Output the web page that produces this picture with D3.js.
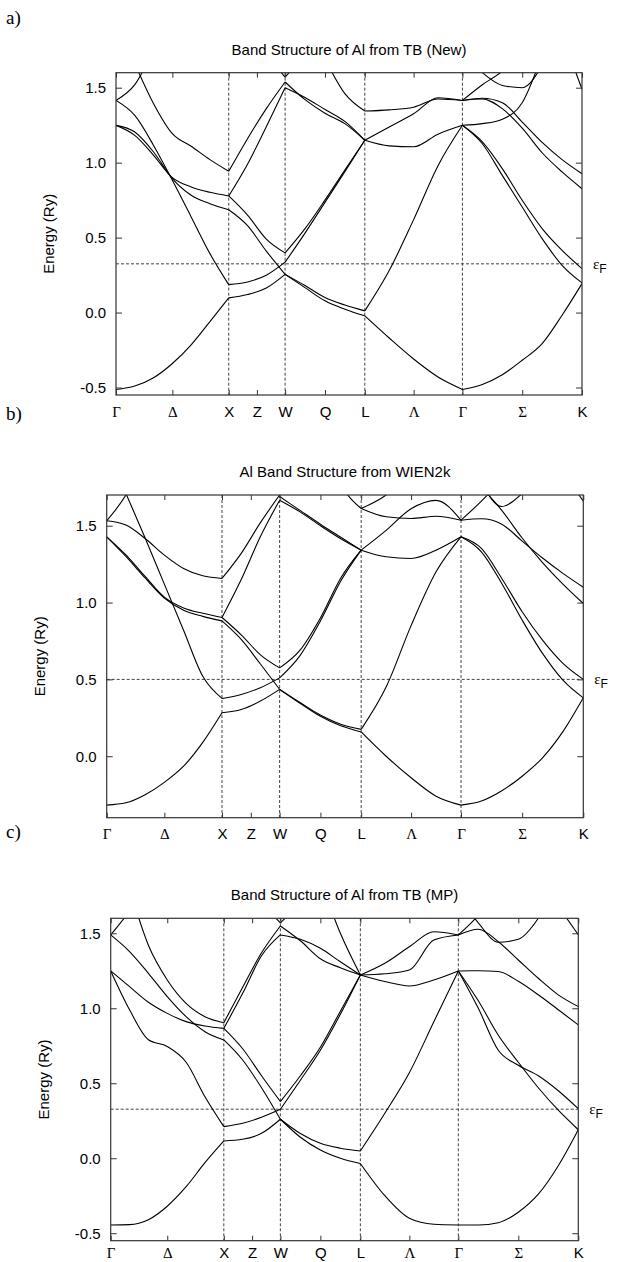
<!DOCTYPE html>
<html>
<head>
<meta charset="utf-8">
<script src="https://cdn.jsdelivr.net/npm/d3@7"></script>
<style>
  body { margin: 0; background: #fff; }
  svg text { font-family: "Liberation Sans", Arial, sans-serif; }
</style>
</head>
<body>
<div id="vis"></div>
<script>
// k-path (units of 2pi/a): G-X-W-L-G-K, with the mid-segment labels
const kLabels = ["Γ", "Δ", "X", "Z", "W", "Q", "L", "Λ", "Γ", "Σ", "K"];
const kTicks = [0, 0.5, 1, 1.25, 1.5, 1.8536, 2.2071, 2.6401, 3.0731, 3.6034, 4.1338];
const kSym = [1, 1.5, 2.2071, 3.0731];   // dashed verticals
const segs = [[0, 1], [1, 1.5], [1.5, 2.2071], [2.2071, 3.0731], [3.0731, 4.1338]];

// band energies (Ry) sampled evenly along each segment, one row per band
// panel a) TB (New)
const aGX = [
  [-0.513, -0.49, -0.435, -0.34, -0.215, -0.06, 0.098],
  [1.415, 1.315, 1.115, 0.882, 0.638, 0.393, 0.186],
  [1.249, 1.182, 1.049, 0.90, 0.838, 0.802, 0.778],
  [1.249, 1.204, 1.071, 0.893, 0.782, 0.726, 0.686],
  [1.95, 1.66, 1.393, 1.193, 1.109, 1.02, 0.942],
  [1.415, 1.52, 1.75, 2.0, null, null, null]
];
const aXW = [
  [0.098, 0.12, 0.164, 0.255],
  [0.186, 0.204, 0.249, 0.336],
  [0.686, 0.58, 0.41, 0.255],
  [0.778, 0.65, 0.49, 0.398],
  [0.778, 0.99, 1.24, 1.50],
  [0.942, 1.16, 1.36, 1.538],
  [null, null, 1.72, 1.57]
];
const aWL = [
  [0.255, 0.166, 0.078, 0.022, -0.022],
  [0.255, 0.18, 0.10, 0.05, 0.011],
  [0.336, 0.53, 0.735, 0.94, 1.149],
  [0.398, 0.56, 0.75, 0.95, 1.149],
  [1.538, 1.42, 1.33, 1.26, 1.149],
  [1.50, 1.435, 1.355, 1.275, 1.149],
  [2.3, 1.95, 1.69, 1.46, 1.344],
  [1.57, 1.72, null, null, null]
];
const aLG = [
  [-0.022, -0.17, -0.31, -0.43, -0.513],
  [0.011, 0.28, 0.62, 0.98, 1.249],
  [1.149, 1.112, 1.106, 1.19, 1.249],
  [1.149, 1.238, 1.326, 1.433, 1.415],
  [1.344, 1.352, 1.37, 1.425, 1.415]
];
const aGK = [
  [-0.513, -0.48, -0.415, -0.318, -0.207, -0.018, 0.193],
  [1.249, 1.126, 0.915, 0.704, 0.493, 0.315, 0.198],
  [1.249, 1.138, 0.96, 0.749, 0.56, 0.415, 0.293],
  [1.415, 1.43, 1.40, 1.271, 1.135, 1.02, 0.926],
  [1.415, 1.425, 1.36, 1.23, 1.066, 0.938, 0.826],
  [1.249, 1.26, 1.29, 1.40, 1.72, null, null],
  [1.415, 1.52, 1.61, 1.75, null, null, null],
  [null, 1.6, 1.515, 1.50, 1.65, null, null],
  [null, null, null, null, null, 1.85, 1.49]
];

// panel b) WIEN2k
const bGX = [
  [-0.318, -0.303, -0.25, -0.17, -0.065, 0.09, 0.283],
  [2.0, 1.71, 1.42, 1.12, 0.82, 0.52, 0.376],
  [1.532, 1.70, 1.95, null, null, null, null],
  [1.532, 1.504, 1.417, 1.309, 1.222, 1.174, 1.157],
  [1.428, 1.31, 1.17, 1.035, 0.965, 0.93, 0.903],
  [1.428, 1.30, 1.16, 1.03, 0.95, 0.91, 0.881]
];
const bXW = [
  [0.283, 0.304, 0.359, 0.435],
  [0.376, 0.402, 0.446, 0.51],
  [0.881, 0.76, 0.60, 0.435],
  [0.903, 0.79, 0.66, 0.575],
  [0.903, 1.15, 1.43, 1.666],
  [1.157, 1.32, 1.52, 1.70]
];
const bWL = [
  [0.435, 0.35, 0.268, 0.208, 0.175],
  [0.435, 0.345, 0.26, 0.198, 0.158],
  [0.51, 0.655, 0.88, 1.14, 1.341],
  [0.575, 0.69, 0.90, 1.16, 1.341],
  [1.69, 1.6, 1.51, 1.425, 1.341],
  [1.666, 1.59, 1.50, 1.415, 1.341],
  [null, null, 2.1, 1.77, 1.612]
];
const bLG = [
  [0.158, 0.0, -0.14, -0.26, -0.318],
  [0.175, 0.45, 0.85, 1.2, 1.428],
  [1.341, 1.298, 1.287, 1.341, 1.428],
  [1.341, 1.47, 1.61, 1.665, 1.536],
  [1.612, 1.558, 1.547, 1.562, 1.536],
  [1.612, 1.70, 1.85, null, null]
];
const bGK = [
  [-0.318, -0.292, -0.225, -0.13, -0.01, 0.16, 0.38],
  [1.428, 1.352, 1.157, 0.94, 0.755, 0.604, 0.50],
  [1.428, 1.33, 1.124, 0.886, 0.669, 0.495, 0.38],
  [1.536, 1.545, 1.51, 1.40, 1.29, 1.19, 1.10],
  [null, 1.75, 1.60, 1.42, 1.26, 1.12, 0.994],
  [1.536, 1.66, 1.8, null, null, null, null],
  [null, 1.78, 1.625, 1.71, 1.85, null, null],
  [null, null, null, null, null, 1.85, 1.66]
];

// panel c) TB (MP)
const cGX = [
  [-0.445, -0.443, -0.41, -0.32, -0.19, -0.03, 0.115],
  [1.249, 0.99, 0.79, 0.745, 0.64, 0.41, 0.211],
  [1.249, 1.144, 1.04, 0.966, 0.911, 0.882, 0.866],
  [null, 1.8, 1.42, 1.189, 1.033, 0.944, 0.904],
  [1.489, 1.378, 1.233, 1.078, 0.944, 0.844, 0.789],
  [1.489, 1.65, 1.85, null, null, null, null]
];
const cXW = [
  [0.115, 0.126, 0.166, 0.26],
  [0.211, 0.233, 0.273, 0.326],
  [0.789, 0.655, 0.47, 0.26],
  [0.866, 0.73, 0.55, 0.378],
  [0.866, 1.1, 1.35, 1.489],
  [0.904, 1.14, 1.37, 1.549],
  [null, null, 1.7, 1.57]
];
const cWL = [
  [0.26, 0.165, 0.1, 0.067, 0.048],
  [0.26, 0.14, 0.055, 0.0, -0.035],
  [0.326, 0.52, 0.72, 0.96, 1.222],
  [0.378, 0.55, 0.74, 0.98, 1.222],
  [1.549, 1.45, 1.33, 1.27, 1.222],
  [1.489, 1.46, 1.40, 1.31, 1.222],
  [null, 2.2, 1.85, 1.5, 1.222],
  [1.57, 1.7, null, null, null]
];
const cLG = [
  [-0.035, -0.25, -0.40, -0.44, -0.445],
  [0.048, 0.3, 0.57, 0.91, 1.249],
  [1.222, 1.178, 1.149, 1.189, 1.249],
  [1.222, 1.3, 1.41, 1.51, 1.489],
  [1.222, 1.23, 1.255, 1.455, 1.489]
];
const cGK = [
  [-0.445, -0.445, -0.43, -0.36, -0.24, -0.05, 0.19],
  [1.249, 1.25, 1.245, 1.18, 1.09, 0.99, 0.889],
  [1.249, 1.0, 0.72, 0.62, 0.55, 0.45, 0.33],
  [1.249, 1.05, 0.82, 0.64, 0.47, 0.32, 0.19],
  [1.489, 1.527, 1.444, 1.322, 1.2, 1.089, 1.011],
  [1.75, 1.57, 1.44, 1.46, 1.6, 1.85, null],
  [1.489, 1.62, 1.8, null, null, null, null],
  [null, null, null, null, null, 1.68, 1.49]
];

const W = 618, H = 1262;
const svg = d3.select('#vis').append('svg')
  .attr('width', W).attr('height', H);

const panels = [
  { tag: 'a)', title: 'Band Structure of Al from TB (New)', bands: [aGX, aXW, aWL, aLG, aGK],
    box: { l: 116, r: 582, t: 72.7, b: 395 }, ydom: [-0.55, 1.6], ef: 0.325,
    yt: [-0.5, 0, 0.5, 1.0, 1.5], tagY: 24, xpad: 11 },
  { tag: 'b)', title: 'Al Band Structure from WIEN2k', bands: [bGX, bXW, bWL, bLG, bGK],
    box: { l: 106.7, r: 583.3, t: 495, b: 817.7 }, ydom: [-0.4, 1.7], ef: 0.5,
    yt: [0, 0.5, 1.0, 1.5], tagY: 420, xpad: 11 },
  { tag: 'c)', title: 'Band Structure of Al from TB (MP)', bands: [cGX, cXW, cWL, cLG, cGK],
    box: { l: 110.7, r: 578.3, t: 918.3, b: 1240.7 }, ydom: [-0.55, 1.6], ef: 0.327,
    yt: [-0.5, 0, 0.5, 1.0, 1.5], tagY: 838, xpad: 7 }
];

const greek = new Set(["Γ", "Δ", "Λ", "Σ"]);

panels.forEach((p, pi) => {
  const bx = p.box;
  const x = d3.scaleLinear().domain([0, kTicks[kTicks.length - 1]]).range([bx.l, bx.r]);
  const y = d3.scaleLinear().domain(p.ydom).range([bx.b, bx.t]);
  const g = svg.append('g');

  // panel tag
  svg.append('text')
    .attr('x', 6).attr('y', p.tagY)
    .text(p.tag)
    .style('font-family', '"Liberation Serif", "DejaVu Serif", serif')
    .style('font-size', '19px');

  // title
  g.append('text')
    .attr('x', (bx.l + bx.r) / 2).attr('y', bx.t - 18)
    .attr('text-anchor', 'middle')
    .style('font-size', '15px')
    .text(p.title);

  // clip to plot box
  const clipId = 'clip' + pi;
  svg.append('clipPath').attr('id', clipId)
    .append('rect')
    .attr('x', bx.l).attr('y', bx.t)
    .attr('width', bx.r - bx.l).attr('height', bx.b - bx.t);

  // dashed guides
  g.selectAll('.vl').data(kSym).enter().append('line')
    .attr('x1', d => x(d)).attr('x2', d => x(d))
    .attr('y1', bx.t).attr('y2', bx.b)
    .attr('stroke', '#444').attr('stroke-width', 1)
    .attr('stroke-dasharray', '3,2');
  g.append('line')
    .attr('x1', bx.l).attr('x2', bx.r)
    .attr('y1', y(p.ef)).attr('y2', y(p.ef))
    .attr('stroke', '#444').attr('stroke-width', 1)
    .attr('stroke-dasharray', '3,2');

  // bands
  const line = d3.line()
    .defined(d => d[1] !== null)
    .x(d => x(d[0])).y(d => y(d[1]))
    .curve(d3.curveMonotoneX);
  const bandG = g.append('g').attr('clip-path', `url(#${clipId})`);
  p.bands.forEach((rows, si) => {
    const [k0, k1] = segs[si];
    rows.forEach(row => {
      const pts = row.map((e, i) => [k0 + (k1 - k0) * i / (row.length - 1), e]);
      bandG.append('path')
        .attr('d', line(pts))
        .attr('fill', 'none')
        .attr('stroke', '#000')
        .attr('stroke-width', 1.1);
    });
  });

  // axes (gnuplot style: inward, mirrored ticks)
  const fmt = d => d.toFixed(1);
  const yl = g.append('g').attr('transform', `translate(${bx.l},0)`)
    .call(d3.axisLeft(y).tickValues(p.yt).tickFormat(fmt).tickSize(-6).tickPadding(10));
  const yr = g.append('g').attr('transform', `translate(${bx.r},0)`)
    .call(d3.axisRight(y).tickValues(p.yt).tickFormat('').tickSize(-6));
  const xb = g.append('g').attr('transform', `translate(0,${bx.b})`)
    .call(d3.axisBottom(x).tickValues(kTicks).tickFormat((d, i) => kLabels[i]).tickSize(-5).tickPadding(p.xpad));
  const xt = g.append('g').attr('transform', `translate(0,${bx.t})`)
    .call(d3.axisTop(x).tickValues(kTicks).tickFormat('').tickSize(-5));
  [yl, yr, xb, xt].forEach(a => {
    a.select('.domain').remove();
    a.selectAll('line').attr('stroke', '#333');
    a.selectAll('text').style('font-size', '15px').attr('fill', '#000')
      .style('font-family', '"Liberation Sans", Arial, sans-serif');
  });
  xb.selectAll('text')
    .filter(d => greek.has(kLabels[kTicks.indexOf(d)]))
    .style('font-family', '"Liberation Serif", "DejaVu Serif", serif');

  // frame
  g.append('rect')
    .attr('x', bx.l).attr('y', bx.t)
    .attr('width', bx.r - bx.l).attr('height', bx.b - bx.t)
    .attr('fill', 'none').attr('stroke', '#333').attr('stroke-width', 1.2);

  // y label
  g.append('text')
    .attr('transform', `translate(${bx.l - 62},${(bx.t + bx.b) / 2}) rotate(-90)`)
    .attr('text-anchor', 'middle')
    .style('font-size', '15px')
    .text('Energy (Ry)');

  // Fermi level label
  const ef = g.append('text')
    .attr('x', bx.r + 11).attr('y', y(p.ef) + 5)
    .style('font-family', '"Liberation Serif", "DejaVu Serif", serif')
    .style('font-size', '15px')
    .text('ε');
  ef.append('tspan').attr('dy', 4)
    .style('font-family', '"Liberation Sans", Arial, sans-serif')
    .style('font-size', '12px')
    .text('F');
});
</script>
</body>
</html>
